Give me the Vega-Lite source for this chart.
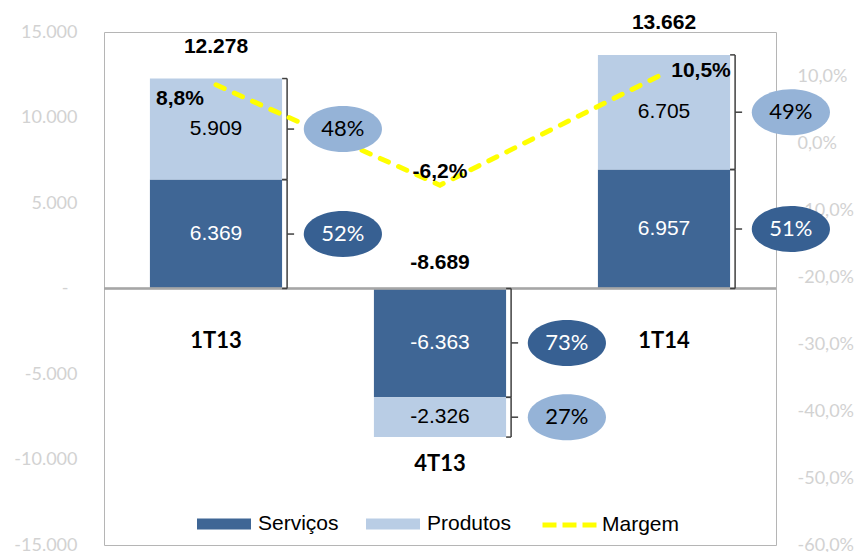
{
  "$schema": "https://vega.github.io/schema/vega-lite/v6.json",
  "autosize": {"type": "none"},
  "padding": {"left": 104, "top": 32, "right": 81, "bottom": 7},
  "width": 672,
  "height": 513,
  "config": {
    "view": {"stroke": "#b5b5b5", "strokeWidth": 1},
    "locale": {"number": {"decimal": ",", "thousands": ".", "grouping": [3], "currency": ["R$", ""], "minus": "-"}},
    "legend": {"padding": 0, "titlePadding": 0}
  },
  "datasets": {
    "segs": [
      {"cat": "1T13", "serie": "Serviços", "valor": 6369, "share": 0.52},
      {"cat": "1T13", "serie": "Produtos", "valor": 5909, "share": 0.48},
      {"cat": "4T13", "serie": "Serviços", "valor": -6363, "share": 0.73},
      {"cat": "4T13", "serie": "Produtos", "valor": -2326, "share": 0.27},
      {"cat": "1T14", "serie": "Serviços", "valor": 6957, "share": 0.51},
      {"cat": "1T14", "serie": "Produtos", "valor": 6705, "share": 0.49}
    ],
    "tot": [
      {"cat": "1T13", "total": 12278, "margem": 0.088},
      {"cat": "4T13", "total": -8689, "margem": -0.062},
      {"cat": "1T14", "total": 13662, "margem": 0.105}
    ]
  },
  "resolve": {"scale": {"y": "independent"}},
  "layer": [
    {
      "layer": [
        {
          "data": {"name": "segs"},
          "mark": {"type": "bar"},
          "encoding": {
            "x": {"field": "cat", "type": "nominal", "scale": {"type": "band", "domain": ["1T13", "4T13", "1T14"], "paddingInner": 0.41, "paddingOuter": 0.205}, "axis": null},
            "y": {"field": "valor", "type": "quantitative", "stack": "zero", "title": null,
              "scale": {"domain": [-15000, 15000], "nice": false, "zero": false},
              "axis": {"orient": "left", "values": [-15000, -10000, -5000, 0, 5000, 10000, 15000],
                "labelExpr": "datum.value == 0 ? '-' : format(datum.value, ',.0f')",
                "domain": false, "ticks": false, "grid": false,
                "labelPadding": {"condition": {"test": "datum.value == 0", "value": 36}, "value": 27},
                "labelFont": "Lato", "labelFontSize": 18, "labelColor": "#d2d2d2", "title": null}},
            "color": {"field": "serie", "type": "nominal",
              "scale": {"domain": ["Serviços", "Produtos"], "range": ["#3F6695", "#B9CDE5"]},
              "legend": {"orient": "none", "legendX": 93, "legendY": 465, "direction": "horizontal", "title": null,
                "symbolType": "M-1,-0.2H1V0.2H-1Z", "symbolSize": 2916, "symbolStrokeWidth": 0,
                "labelFont": "Liberation Sans", "labelFontSize": 21, "labelColor": "#000000",
                "labelOffset": 7, "columnPadding": 27}},
            "order": {"field": "serie", "sort": "descending"}
          }
        },
        {
          "data": {"name": "segs"},
          "mark": {"type": "rule", "color": "#a6a6a6", "strokeWidth": 1.5},
          "encoding": {
            "y": {"datum": 0, "type": "quantitative", "scale": {"domain": [-15000, 15000], "nice": false, "zero": false}, "title": null}
          }
        },
        {
          "data": {"name": "segs"},
          "mark": {"type": "text", "font": "Liberation Sans", "fontSize": 21},
          "encoding": {
            "x": {"field": "cat", "type": "nominal", "scale": {"type": "band", "domain": ["1T13", "4T13", "1T14"], "paddingInner": 0.41, "paddingOuter": 0.205}, "axis": null, "bandPosition": 0.5},
            "y": {"field": "valor", "type": "quantitative", "stack": "zero", "bandPosition": 0.5, "title": null, "scale": {"domain": [-15000, 15000], "nice": false, "zero": false}},
            "detail": {"field": "serie"},
            "order": {"field": "serie", "sort": "descending"},
            "text": {"field": "valor", "type": "quantitative", "format": ",.0f"},
            "color": {"condition": {"test": "datum.serie === 'Serviços'", "value": "#ffffff"}, "value": "#000000"}
          }
        },
        {
          "data": {"name": "segs"},
          "transform": [{"stack": "valor", "groupby": ["cat"], "sort": [{"field": "serie", "order": "descending"}], "as": ["v0", "v1"]}],
          "layer": [
            {
              "mark": {"type": "rule", "color": "#404040", "strokeWidth": 1.5},
              "encoding": {
                "x": {"field": "cat", "type": "nominal", "scale": {"type": "band", "domain": ["1T13", "4T13", "1T14"], "paddingInner": 0.41, "paddingOuter": 0.205}, "axis": null, "bandPosition": 1.038},
                "y": {"field": "v0", "type": "quantitative", "title": null, "scale": {"domain": [-15000, 15000], "nice": false, "zero": false}},
                "y2": {"field": "v1"}
              }
            },
            {
              "mark": {"type": "point", "shape": "M-1,0H0", "size": 100, "filled": false, "color": "#404040", "strokeWidth": 1.5, "opacity": 1},
              "encoding": {
                "x": {"field": "cat", "type": "nominal", "scale": {"type": "band", "domain": ["1T13", "4T13", "1T14"], "paddingInner": 0.41, "paddingOuter": 0.205}, "axis": null, "bandPosition": 1.038},
                "y": {"field": "v0", "type": "quantitative", "title": null, "scale": {"domain": [-15000, 15000], "nice": false, "zero": false}}
              }
            },
            {
              "mark": {"type": "point", "shape": "M-1,0H0", "size": 100, "filled": false, "color": "#404040", "strokeWidth": 1.5, "opacity": 1},
              "encoding": {
                "x": {"field": "cat", "type": "nominal", "scale": {"type": "band", "domain": ["1T13", "4T13", "1T14"], "paddingInner": 0.41, "paddingOuter": 0.205}, "axis": null, "bandPosition": 1.038},
                "y": {"field": "v1", "type": "quantitative", "title": null, "scale": {"domain": [-15000, 15000], "nice": false, "zero": false}}
              }
            }
          ]
        },
        {
          "data": {"name": "segs"},
          "mark": {"type": "point", "shape": "M0,0H1", "size": 196, "filled": false, "color": "#404040", "strokeWidth": 1.5, "opacity": 1},
          "encoding": {
            "x": {"field": "cat", "type": "nominal", "scale": {"type": "band", "domain": ["1T13", "4T13", "1T14"], "paddingInner": 0.41, "paddingOuter": 0.205}, "axis": null, "bandPosition": 1.038},
            "y": {"field": "valor", "type": "quantitative", "stack": "zero", "bandPosition": 0.5, "title": null, "scale": {"domain": [-15000, 15000], "nice": false, "zero": false}},
            "detail": {"field": "serie"},
            "order": {"field": "serie", "sort": "descending"}
          }
        },
        {
          "data": {"name": "tot"},
          "transform": [{"filter": "datum.total > 0"}],
          "mark": {"type": "text", "font": "Liberation Sans", "fontWeight": "bold", "fontSize": 21, "dy": -32, "color": "#000000"},
          "encoding": {
            "x": {"field": "cat", "type": "nominal", "scale": {"type": "band", "domain": ["1T13", "4T13", "1T14"], "paddingInner": 0.41, "paddingOuter": 0.205}, "axis": null, "bandPosition": 0.5},
            "y": {"field": "total", "type": "quantitative", "title": null, "scale": {"domain": [-15000, 15000], "nice": false, "zero": false}},
            "text": {"field": "total", "type": "quantitative", "format": ",.0f"}
          }
        },
        {
          "data": {"name": "tot"},
          "transform": [{"filter": "datum.total < 0"}],
          "mark": {"type": "text", "font": "Liberation Sans", "fontWeight": "bold", "fontSize": 21, "dy": -26, "color": "#000000"},
          "encoding": {
            "x": {"field": "cat", "type": "nominal", "scale": {"type": "band", "domain": ["1T13", "4T13", "1T14"], "paddingInner": 0.41, "paddingOuter": 0.205}, "axis": null, "bandPosition": 0.5},
            "y": {"datum": 0, "type": "quantitative", "title": null, "scale": {"domain": [-15000, 15000], "nice": false, "zero": false}},
            "text": {"field": "total", "type": "quantitative", "format": ",.0f"}
          }
        },
        {
          "data": {"name": "tot"},
          "transform": [{"filter": "datum.total > 0"}],
          "mark": {"type": "text", "font": "Lato", "fontWeight": "bold", "fontSize": 22, "dy": 52, "color": "#000000"},
          "encoding": {
            "x": {"field": "cat", "type": "nominal", "scale": {"type": "band", "domain": ["1T13", "4T13", "1T14"], "paddingInner": 0.41, "paddingOuter": 0.205}, "axis": null, "bandPosition": 0.5},
            "y": {"datum": 0, "type": "quantitative", "title": null, "scale": {"domain": [-15000, 15000], "nice": false, "zero": false}},
            "text": {"field": "cat", "type": "nominal"}
          }
        },
        {
          "data": {"name": "tot"},
          "transform": [{"filter": "datum.total < 0"}],
          "mark": {"type": "text", "font": "Lato", "fontWeight": "bold", "fontSize": 22, "dy": 27, "color": "#000000"},
          "encoding": {
            "x": {"field": "cat", "type": "nominal", "scale": {"type": "band", "domain": ["1T13", "4T13", "1T14"], "paddingInner": 0.41, "paddingOuter": 0.205}, "axis": null, "bandPosition": 0.5},
            "y": {"field": "total", "type": "quantitative", "title": null, "scale": {"domain": [-15000, 15000], "nice": false, "zero": false}},
            "text": {"field": "cat", "type": "nominal"}
          }
        }
      ]
    },
    {
      "data": {"name": "tot"},
      "layer": [
        {
          "mark": {"type": "line", "strokeWidth": 5, "strokeDash": [9, 11], "strokeCap": "round"},
          "encoding": {
            "x": {"field": "cat", "type": "nominal", "scale": {"type": "band", "domain": ["1T13", "4T13", "1T14"], "paddingInner": 0.41, "paddingOuter": 0.205}, "axis": null, "bandPosition": 0.5},
            "y": {"field": "margem", "type": "quantitative", "title": null,
              "scale": {"domain": [-0.6, 0.167], "nice": false, "zero": false},
              "axis": {"orient": "right", "values": [-0.6, -0.5, -0.4, -0.3, -0.2, -0.1, 0, 0.1], "format": ".1%",
                "domain": false, "ticks": false, "grid": false, "labelPadding": 21,
                "labelFont": "Lato", "labelFontSize": 18, "labelColor": "#d2d2d2", "title": null}},
            "stroke": {"datum": "Margem", "type": "nominal", "scale": {"domain": ["Margem"], "range": ["#FFFF00"]},
              "legend": {"orient": "none", "legendX": 436, "legendY": 463, "direction": "horizontal", "title": null,
                "symbolType": "stroke", "symbolSize": 3025, "symbolStrokeWidth": 5, "symbolDash": [14, 6],
                "labelFont": "Liberation Sans", "labelFontSize": 21, "labelColor": "#000000", "labelOffset": 2}}
          }
        },
        {
          "transform": [{"filter": "datum.cat === '1T13'"}],
          "mark": {"type": "text", "font": "Liberation Sans", "fontWeight": "bold", "fontSize": 21, "dx": -36, "dy": 14, "color": "#000000"},
          "encoding": {
            "x": {"field": "cat", "type": "nominal", "scale": {"type": "band", "domain": ["1T13", "4T13", "1T14"], "paddingInner": 0.41, "paddingOuter": 0.205}, "axis": null, "bandPosition": 0.5},
            "y": {"field": "margem", "type": "quantitative", "title": null, "scale": {"domain": [-0.6, 0.167], "nice": false, "zero": false}},
            "text": {"field": "margem", "type": "quantitative", "format": ".1%"}
          }
        },
        {
          "transform": [{"filter": "datum.cat === '4T13'"}],
          "mark": {"type": "text", "font": "Liberation Sans", "fontWeight": "bold", "fontSize": 21, "dx": 0, "dy": -13, "color": "#000000"},
          "encoding": {
            "x": {"field": "cat", "type": "nominal", "scale": {"type": "band", "domain": ["1T13", "4T13", "1T14"], "paddingInner": 0.41, "paddingOuter": 0.205}, "axis": null, "bandPosition": 0.5},
            "y": {"field": "margem", "type": "quantitative", "title": null, "scale": {"domain": [-0.6, 0.167], "nice": false, "zero": false}},
            "text": {"field": "margem", "type": "quantitative", "format": ".1%"}
          }
        },
        {
          "transform": [{"filter": "datum.cat === '1T14'"}],
          "mark": {"type": "text", "font": "Liberation Sans", "fontWeight": "bold", "fontSize": 21, "dx": 37, "dy": -2, "color": "#000000"},
          "encoding": {
            "x": {"field": "cat", "type": "nominal", "scale": {"type": "band", "domain": ["1T13", "4T13", "1T14"], "paddingInner": 0.41, "paddingOuter": 0.205}, "axis": null, "bandPosition": 0.5},
            "y": {"field": "margem", "type": "quantitative", "title": null, "scale": {"domain": [-0.6, 0.167], "nice": false, "zero": false}},
            "text": {"field": "margem", "type": "quantitative", "format": ".1%"}
          }
        }
      ]
    },
    {
      "data": {"name": "segs"},
      "layer": [
        {
          "mark": {"type": "point", "shape": "M-1.7,0A1.7,1,0,1,1,1.7,0A1.7,1,0,1,1,-1.7,0Z", "size": 2116, "filled": true, "opacity": 1, "strokeWidth": 0},
          "encoding": {
            "x": {"field": "cat", "type": "nominal", "scale": {"type": "band", "domain": ["1T13", "4T13", "1T14"], "paddingInner": 0.41, "paddingOuter": 0.205}, "axis": null, "bandPosition": 1.46},
            "y": {"field": "valor", "type": "quantitative", "stack": "zero", "bandPosition": 0.5, "title": null, "axis": null, "scale": {"domain": [-15000, 15000], "nice": false, "zero": false}},
            "detail": {"field": "serie"},
            "order": {"field": "serie", "sort": "descending"},
            "fill": {"field": "serie", "type": "nominal", "scale": {"domain": ["Serviços", "Produtos"], "range": ["#376092", "#95B3D7"]}, "legend": null}
          }
        },
        {
          "mark": {"type": "text", "font": "Lato", "fontSize": 22},
          "encoding": {
            "x": {"field": "cat", "type": "nominal", "scale": {"type": "band", "domain": ["1T13", "4T13", "1T14"], "paddingInner": 0.41, "paddingOuter": 0.205}, "axis": null, "bandPosition": 1.46},
            "y": {"field": "valor", "type": "quantitative", "stack": "zero", "bandPosition": 0.5, "title": null, "axis": null, "scale": {"domain": [-15000, 15000], "nice": false, "zero": false}},
            "detail": {"field": "serie"},
            "order": {"field": "serie", "sort": "descending"},
            "text": {"field": "share", "type": "quantitative", "format": ".0%"},
            "color": {"condition": {"test": "datum.serie === 'Serviços'", "value": "#ffffff"}, "value": "#000000"}
          }
        }
      ]
    }
  ]
}
